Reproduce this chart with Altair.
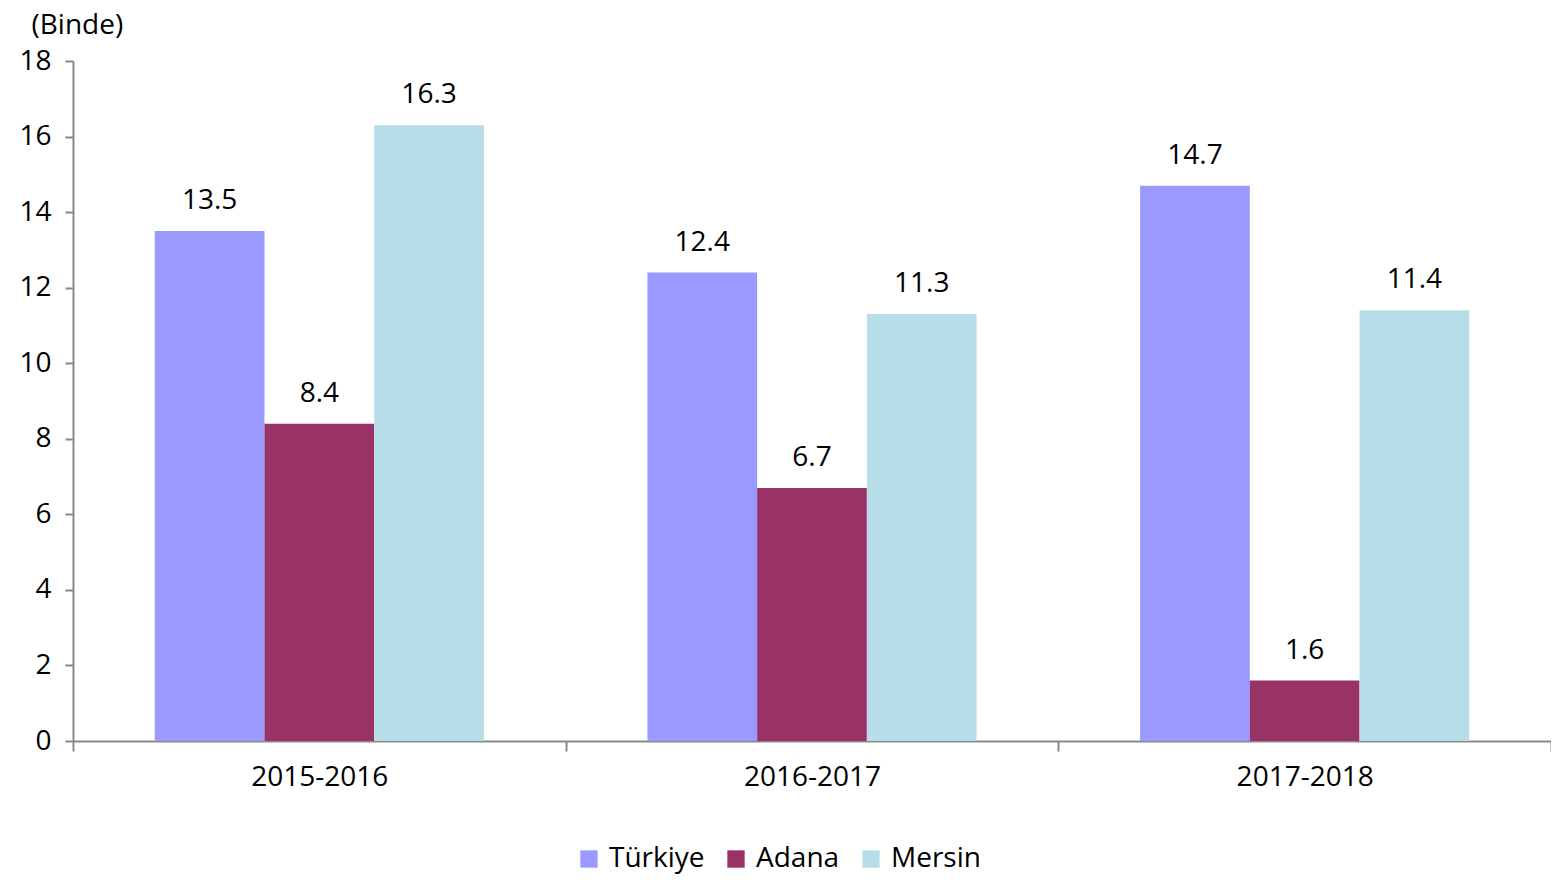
import altair as alt
import pandas as pd

periods = ["2015-2016", "2016-2017", "2017-2018"]
series = ["Türkiye", "Adana", "Mersin"]
turkiye = [13.5, 12.4, 14.7]
adana = [8.4, 6.7, 1.6]
mersin = [16.3, 11.3, 11.4]
colors = ["#9999FF", "#993366", "#B7DDE8"]

rows = []
for i, p in enumerate(periods):
    for s, vals in zip(series, [turkiye, adana, mersin]):
        rows.append({"period": p, "series": s, "value": vals[i]})
df = pd.DataFrame(rows)

FONT = "Open Sans"
FS = 28

x = alt.X("period:N", sort=periods,
          scale=alt.Scale(paddingInner=0, paddingOuter=0),
          axis=alt.Axis(title=None, labelAngle=0, labelFontSize=FS, labelFont=FONT,
                        labelColor="#000000", labelPadding=12, tickBand="extent",
                        tickSize=10, tickColor="#898989", domainColor="#898989",
                        domainWidth=2, tickWidth=2))
y = alt.Y("value:Q", scale=alt.Scale(domain=[0, 18], nice=False),
          axis=alt.Axis(values=list(range(0, 19, 2)), title="(Binde)", titleAngle=0,
                        titleFont=FONT, titleFontSize=FS, titleFontWeight="normal",
                        titleColor="#000000", titleAlign="left", titleBaseline="middle",
                        titleX=-42, titleY=-36, labelFontSize=FS, labelFont=FONT,
                        labelColor="#000000", labelPadding=14, tickSize=8,
                        tickColor="#898989", domainColor="#898989", grid=False,
                        domainWidth=2, tickWidth=2))
xo = alt.XOffset("series:N", sort=series,
                 scale=alt.Scale(paddingInner=0, paddingOuter=0.745))
color = alt.Color("series:N", sort=series,
                  scale=alt.Scale(domain=series, range=colors),
                  legend=alt.Legend(title=None, orient="none", direction="horizontal",
                                    legendX=502, legendY=784, symbolType="square",
                                    symbolSize=300, symbolStrokeWidth=0,
                                    labelFontSize=FS, labelFont=FONT, labelColor="#000000",
                                    columnPadding=17, labelOffset=6))

base = alt.Chart(df)
bars = base.mark_bar().encode(x=x, xOffset=xo, y=y, color=color)
labels = base.mark_text(dy=-16, fontSize=FS, font=FONT, color="#000000", baseline="bottom").encode(
    x=x, xOffset=xo, y=y, text=alt.Text("value:Q", format=".1f"))

chart = (bars + labels).properties(
    width=1478, height=680,
    autosize=alt.AutoSizeParams(type="none"),
    padding={"left": 65, "top": 53, "right": 0, "bottom": 134},
).configure_view(stroke=None)

chart.save("out.html", embed_options={"renderer": "svg", "actions": False})
